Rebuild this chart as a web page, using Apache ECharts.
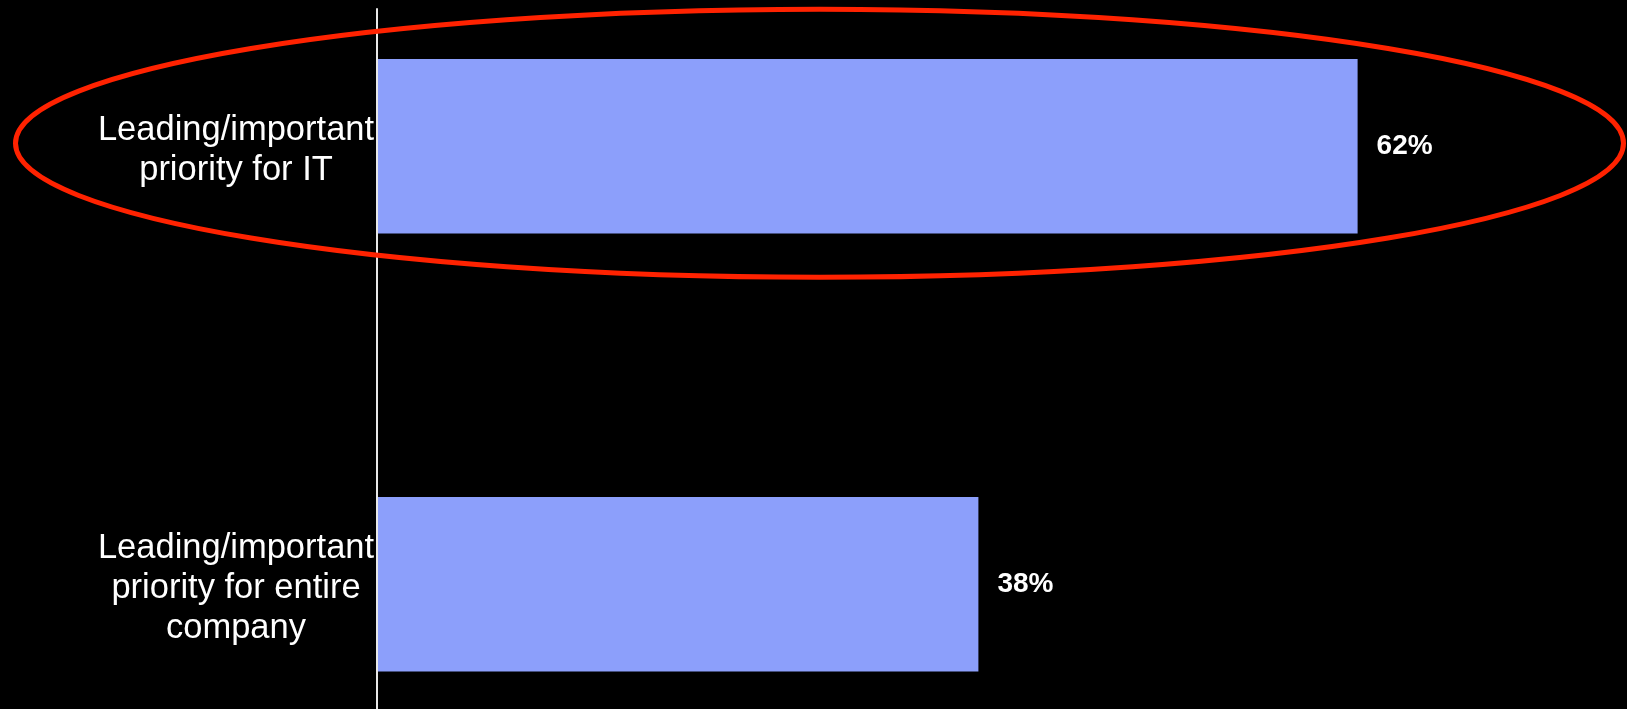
<!DOCTYPE html>
<html>
<head>
<meta charset="utf-8">
<script src="https://cdn.jsdelivr.net/npm/echarts@6/dist/echarts.min.js"></script>
<style>
html,body{margin:0;padding:0;background:#000;}
#chart{width:1627px;height:709px;}
</style>
</head>
<body>
<div id="chart"></div>
<script>
const categories = ['Leading/important\npriority for IT', 'Leading/important\npriority for entire\ncompany'];
const values = [62, 38];

const FONT = 'Liberation Sans, Arial, sans-serif';
const chart = echarts.init(document.getElementById('chart'));
const option = {
  backgroundColor: '#000',
  animation: false,
  grid: [
    {left: 378, top: -72.75, width: 1264, height: 876, containLabel: false, outerBoundsMode: 'none'},
    {left: 377, top: 9, width: 1, bottom: 0, containLabel: false, outerBoundsMode: 'none'}
  ],
  xAxis: [
    {type: 'value', gridIndex: 0, min: 0, max: 80, show: false},
    {type: 'value', gridIndex: 1, min: 0, max: 1, show: false}
  ],
  yAxis: [
    {
      type: 'category', gridIndex: 0, data: categories, inverse: true,
      axisLine: {show: false}, axisTick: {show: false}, splitLine: {show: false},
      axisLabel: {
        color: '#fff', align: 'center', margin: 142,
        formatter: function (v) {
          return '{s| }\n' + v.split('\n').map(function (l) { return '{a|' + l + '}'; }).join('\n');
        },
        rich: {
          a: {color: '#fff', fontSize: 34.5, lineHeight: 40, fontFamily: FONT},
          s: {fontSize: 1, lineHeight: 8}
        }
      }
    },
    {
      type: 'category', gridIndex: 1, data: [''],
      axisLine: {show: true, onZero: false, lineStyle: {color: '#e8e8e8', width: 2}},
      axisTick: {show: false}, axisLabel: {show: false}, splitLine: {show: false}
    }
  ],
  series: [{
    type: 'bar', xAxisIndex: 0, yAxisIndex: 0,
    data: values, barWidth: 174.5,
    itemStyle: {color: '#8c9ffb'},
    label: {
      show: true, position: 'right', distance: 19, formatter: '{c}%',
      color: '#fff', fontSize: 28, fontWeight: 'bold', fontFamily: FONT
    }
  }],
  graphic: [{
    type: 'ellipse', z: 100,
    shape: {cx: 819.5, cy: 143.3, rx: 804, ry: 134},
    style: {fill: 'none', stroke: '#ff2200', lineWidth: 5}
  }]
};
chart.setOption(option);
</script>
</body>
</html>
